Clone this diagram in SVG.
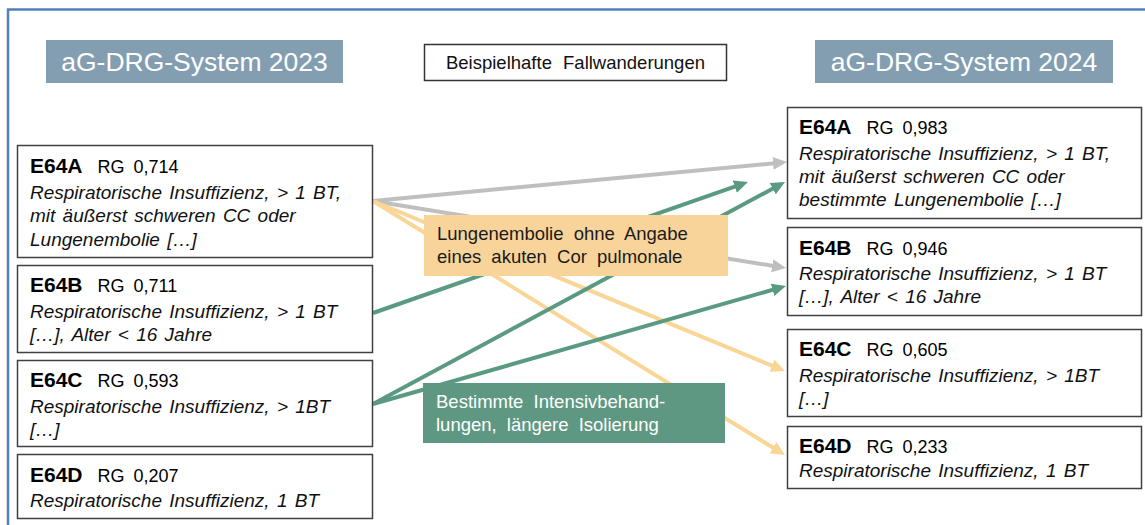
<svg xmlns="http://www.w3.org/2000/svg" width="1145" height="525" viewBox="0 0 1145 525">
<style>
text{font-family:"Liberation Sans",Arial,sans-serif;}
.frame{fill:none;stroke:#4F81BD;stroke-width:2.5;}
.hdr rect{fill:#839EB1;}
.hdr text{fill:#FFFFFF;font-size:26.5px;text-anchor:middle;}
.box{fill:#FFFFFF;stroke:#404040;stroke-width:1.5;}
.code{font-weight:bold;font-size:21px;fill:#000;}
.rg{font-size:18px;fill:#000;word-spacing:4px;}
.desc{font-style:italic;font-size:19px;fill:#111;word-spacing:2px;}
.mid{font-size:18.5px;fill:#111;word-spacing:6px;}
.call{font-size:18.5px;word-spacing:5px;}
.gray{stroke:#BFBFBF;stroke-width:4;fill:none;marker-end:url(#ag);}
.orange{stroke:#F9D596;stroke-width:4;fill:none;marker-end:url(#ao);}
.green{stroke:#5A9A81;stroke-width:4;fill:none;marker-end:url(#agr);}
</style>
<defs>
<marker id="ag" markerUnits="userSpaceOnUse" markerWidth="16" markerHeight="14" refX="6" refY="6.5" orient="auto"><path d="M0,0 L14,6.5 L0,13 z" fill="#BFBFBF"/></marker>
<marker id="ao" markerUnits="userSpaceOnUse" markerWidth="16" markerHeight="14" refX="6" refY="6.5" orient="auto"><path d="M0,0 L14,6.5 L0,13 z" fill="#F9D596"/></marker>
<marker id="agr" markerUnits="userSpaceOnUse" markerWidth="16" markerHeight="14" refX="6" refY="6.5" orient="auto"><path d="M0,0 L14,6.5 L0,13 z" fill="#5A9A81"/></marker>
</defs>
<rect width="1145" height="525" fill="#FFFFFF"/>
<rect class="frame" x="8" y="9.5" width="1160" height="540"/>

<g id="header-2023" class="hdr"><rect x="46" y="40" width="297" height="43"/><text x="194.5" y="71">aG-DRG-System 2023</text></g>
<g id="header-2024" class="hdr"><rect x="815" y="40" width="298" height="43"/><text x="964" y="71">aG-DRG-System 2024</text></g>
<g id="title"><rect class="box" x="424.5" y="44.5" width="302" height="36" style="stroke:#333"/><text class="mid" x="575.5" y="69" text-anchor="middle">Beispielhafte Fallwanderungen</text></g>

<g id="connectors">
<line class="gray" x1="373" y1="201" x2="779" y2="162.8"/>
<line class="gray" x1="373" y1="201" x2="778.1" y2="266.7"/>
<line class="orange" x1="373" y1="201" x2="777.6" y2="368"/>
<line class="orange" x1="373" y1="201" x2="778.2" y2="450.8"/>
<line class="green" x1="373" y1="313" x2="740.4" y2="184.6"/>
<line class="green" x1="373" y1="404" x2="778" y2="185.8"/>
<line class="green" x1="373" y1="404" x2="778.3" y2="288.2"/>
</g>

<g id="L-E64A"><rect class="box" x="17.5" y="145.5" width="355" height="112"/>
<text x="30" y="173"><tspan class="code">E64A</tspan><tspan class="rg" dx="15">RG 0,714</tspan></text>
<text class="desc" x="30" y="199">Respiratorische Insuffizienz, &gt; 1 BT,</text>
<text class="desc" x="30" y="222">mit äußerst schweren CC oder</text>
<text class="desc" x="30" y="246">Lungenembolie  […]</text></g>

<g id="L-E64B"><rect class="box" x="17.5" y="265.5" width="355" height="87"/>
<text x="30" y="292"><tspan class="code">E64B</tspan><tspan class="rg" dx="15">RG 0,711</tspan></text>
<text class="desc" x="30" y="318">Respiratorische Insuffizienz, &gt; 1 BT</text>
<text class="desc" x="30" y="341">[…], Alter &lt; 16 Jahre</text></g>

<g id="L-E64C"><rect class="box" x="17.5" y="360.5" width="355" height="86"/>
<text x="30" y="387"><tspan class="code">E64C</tspan><tspan class="rg" dx="15">RG 0,593</tspan></text>
<text class="desc" x="30" y="413">Respiratorische Insuffizienz, &gt; 1BT</text>
<text class="desc" x="30" y="436">[…]</text></g>

<g id="L-E64D"><rect class="box" x="17.5" y="454.5" width="355" height="64"/>
<text x="30" y="482"><tspan class="code">E64D</tspan><tspan class="rg" dx="15">RG 0,207</tspan></text>
<text class="desc" x="30" y="507">Respiratorische Insuffizienz, 1 BT</text></g>

<g id="R-E64A"><rect class="box" x="787.5" y="107.5" width="354" height="111"/>
<text x="799" y="134"><tspan class="code">E64A</tspan><tspan class="rg" dx="15">RG 0,983</tspan></text>
<text class="desc" x="799" y="160">Respiratorische Insuffizienz, &gt; 1 BT,</text>
<text class="desc" x="799" y="183">mit äußerst schweren CC oder</text>
<text class="desc" x="799" y="206">bestimmte Lungenembolie  […]</text></g>

<g id="R-E64B"><rect class="box" x="787.5" y="227.5" width="354" height="88"/>
<text x="799" y="255"><tspan class="code">E64B</tspan><tspan class="rg" dx="15">RG 0,946</tspan></text>
<text class="desc" x="799" y="280">Respiratorische Insuffizienz, &gt; 1 BT</text>
<text class="desc" x="799" y="303">[…], Alter &lt; 16 Jahre</text></g>

<g id="R-E64C"><rect class="box" x="787.5" y="329.5" width="354" height="87"/>
<text x="799" y="356"><tspan class="code">E64C</tspan><tspan class="rg" dx="15">RG 0,605</tspan></text>
<text class="desc" x="799" y="382">Respiratorische Insuffizienz, &gt; 1BT</text>
<text class="desc" x="799" y="405">[…]</text></g>

<g id="R-E64D"><rect class="box" x="787.5" y="426.5" width="354" height="62"/>
<text x="799" y="453"><tspan class="code">E64D</tspan><tspan class="rg" dx="15">RG 0,233</tspan></text>
<text class="desc" x="799" y="477">Respiratorische Insuffizienz, 1 BT</text></g>

<g id="callout-lungenembolie"><rect x="424" y="215" width="304" height="61" fill="#F8D49A"/>
<text class="call" fill="#1A1A1A" x="437" y="240">Lungenembolie ohne Angabe</text>
<text class="call" fill="#1A1A1A" x="437" y="263">eines akuten Cor pulmonale</text></g>

<g id="callout-intensiv"><rect x="423" y="383" width="302" height="60" fill="#5E9882"/>
<text class="call" fill="#FFFFFF" x="436" y="408">Bestimmte Intensivbehand-</text>
<text class="call" fill="#FFFFFF" x="436" y="431">lungen, längere Isolierung</text></g>
</svg>
